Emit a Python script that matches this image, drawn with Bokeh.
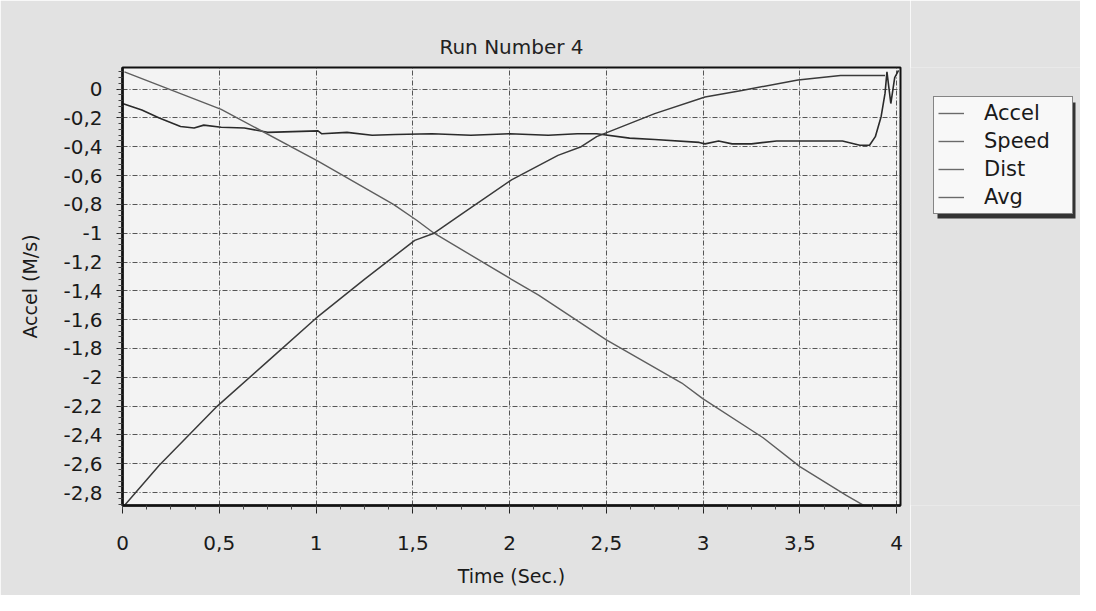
import numpy as np
from bokeh.plotting import figure
from bokeh.layouts import row
from bokeh.models import (Range1d, FixedTicker, CustomJSTickFormatter, Legend,
                          LegendItem)
from bokeh.embed import file_html
from bokeh.resources import INLINE

# ---------------- data ----------------
title_text = "Run Number 4"
x_label = "Time (Sec.)"
y_label = "Accel (M/s)"
series_names = ["Accel", "Speed", "Dist", "Avg"]
series_colors = ["#2a2a2a", "#5e5e5e", "#3a3a3a", "#6a6a6a"]

x_ticks = [0, 0.5, 1, 1.5, 2, 2.5, 3, 3.5, 4]
y_ticks = [-2.8, -2.6, -2.4, -2.2, -2.0, -1.8, -1.6, -1.4, -1.2, -1.0,
           -0.8, -0.6, -0.4, -0.2, 0.0]

accel_t = [0.00, 0.10, 0.19, 0.30, 0.37, 0.42, 0.51, 0.63, 0.75, 1.01, 1.03,
           1.16, 1.29, 1.41, 1.60, 1.80, 2.00, 2.20, 2.35, 2.45, 2.62, 2.75,
           2.98, 3.01, 3.08, 3.15, 3.25, 3.38, 3.50, 3.72, 3.81, 3.86, 3.89,
           3.92, 3.94, 3.95, 3.97, 3.99, 4.01]
accel_v = [-0.10, -0.145, -0.20, -0.26, -0.27, -0.25, -0.265, -0.27, -0.30,
           -0.29, -0.31, -0.30, -0.32, -0.315, -0.31, -0.32, -0.31, -0.32,
           -0.31, -0.31, -0.34, -0.35, -0.37, -0.38, -0.36, -0.38, -0.38,
           -0.36, -0.36, -0.36, -0.39, -0.39, -0.33, -0.19, -0.03, 0.12,
           -0.10, 0.08, 0.13]

speed_t = [0.01, 0.51, 1.01, 1.40, 1.52, 1.61, 2.01, 2.15, 2.50, 2.89, 3.00,
           3.31, 3.50, 3.74, 3.87]
speed_v = [0.12, -0.14, -0.50, -0.80, -0.91, -1.00, -1.32, -1.43, -1.74,
           -2.04, -2.15, -2.42, -2.62, -2.82, -2.92]

dist_t = [0.01, 0.19, 0.49, 0.75, 1.00, 1.25, 1.51, 1.61, 1.75, 2.01, 2.25,
          2.37, 2.45, 2.75, 3.01, 3.20, 3.49, 3.71, 3.94]
dist_v = [-2.89, -2.61, -2.20, -1.89, -1.59, -1.32, -1.05, -1.00, -0.87,
          -0.63, -0.46, -0.40, -0.33, -0.17, -0.055, -0.01, 0.064, 0.095,
          0.095]

avg_t = []
avg_v = []

# ---------------- main figure ----------------
FONT = "DejaVu Sans"
BG = "#e2e2e2"
H = 595
W_MAIN = 910
W_LEG = 170
B_TOP = 67
B_BOTTOM = 90
FRAME_H = H - B_TOP - B_BOTTOM

p = figure(width=W_MAIN, height=H, output_backend="svg", toolbar_location=None,
           x_range=Range1d(0, 4.02), y_range=Range1d(-2.89, 0.15),
           title=title_text)
p.min_border_left = 122
p.min_border_right = 10
p.min_border_top = B_TOP
p.min_border_bottom = B_BOTTOM

p.border_fill_color = BG
p.background_fill_color = "#f3f3f3"
p.outline_line_color = "#111111"
p.outline_line_width = 2

p.title.align = "center"
p.title.text_font = FONT
p.title.text_font_size = "20px"
p.title.text_font_style = "normal"
p.title.text_color = "#222222"
p.title.standoff = 17

fmt = CustomJSTickFormatter(code="""
    var r = Math.round(tick * 10) / 10;
    if (Math.abs(r) < 1e-9) { r = 0; }
    return String(r).replace('.', ',');
""")

xa = p.xaxis[0]
xa.ticker = FixedTicker(ticks=x_ticks,
                        minor_ticks=list(np.arange(0, 4.02, 0.125)))
xa.formatter = fmt
xa.axis_label = x_label
ya = p.yaxis[0]
ya.ticker = FixedTicker(ticks=y_ticks,
                        minor_ticks=list(np.arange(-2.88, 0.15, 0.04)))
ya.formatter = fmt
ya.axis_label = y_label

for ax in (xa, ya):
    ax.axis_line_color = "#111111"
    ax.axis_line_width = 2.5
    ax.major_tick_line_color = "#222222"
    ax.minor_tick_line_color = "#444444"
    ax.major_label_text_font = FONT
    ax.major_label_text_font_size = "20px"
    ax.major_label_text_color = "#1a1a1a"
    ax.axis_label_text_font = FONT
    ax.axis_label_text_font_size = "19px"
    ax.axis_label_text_font_style = "normal"
    ax.axis_label_text_color = "#1a1a1a"

xa.major_tick_out = 8
xa.major_tick_in = 0
xa.minor_tick_out = 4
xa.minor_tick_in = 0
xa.major_label_standoff = 22
xa.axis_label_standoff = 12

ya.major_tick_out = 6
ya.major_tick_in = 0
ya.minor_tick_out = 4
ya.minor_tick_in = 0
ya.major_label_standoff = 14
ya.axis_label_standoff = 19

for g in (p.xgrid[0], p.ygrid[0]):
    g.grid_line_color = "#3a3a3a"
    g.grid_line_dash = "5 2 1 2"
    g.grid_line_width = 1
    g.grid_line_alpha = 0.85

series = [(accel_t, accel_v, 1.6), (speed_t, speed_v, 1.4),
          (dist_t, dist_v, 1.5), (avg_t, avg_v, 1.4)]
for (t, v, w), c in zip(series, series_colors):
    p.line(t, v, line_color=c, line_width=w)

# ---------------- legend panel (frame aligned with the main frame) --------
q = figure(width=W_LEG, height=H, output_backend="svg", toolbar_location=None,
           x_range=Range1d(0, W_LEG), y_range=Range1d(0, FRAME_H))
q.min_border_left = 0
q.min_border_right = 0
q.min_border_top = B_TOP
q.min_border_bottom = B_BOTTOM
q.axis.visible = False
q.grid.visible = False
q.outline_line_color = None
q.border_fill_color = BG
q.background_fill_color = BG

frame_bottom = H - B_BOTTOM           # canvas y of frame bottom
leg_left, leg_top, leg_w, leg_h = 23, 98, 138, 116   # canvas pixels
# drop shadow behind the legend box
q.quad(left=[leg_left + 4], right=[leg_left + leg_w + 4],
       top=[frame_bottom - leg_top - 4],
       bottom=[frame_bottom - leg_top - leg_h - 4],
       fill_color="#333333", line_color=None)

# legend-only line renderers (no visible data)
leg_renderers = [q.line([np.nan], [np.nan], line_color="#6a6a6a",
                        line_width=1.4)
                 for c in series_colors]
items = [LegendItem(label=n, renderers=[r])
         for n, r in zip(series_names, leg_renderers)]
lg = Legend(items=items,
            location=(leg_left, frame_bottom - leg_top - leg_h))
lg.label_text_font = FONT
lg.label_text_font_size = "21px"
lg.label_text_color = "#1a1a1a"
lg.glyph_width = 26
lg.glyph_height = 22
lg.label_height = 24
lg.label_width = 84
lg.label_standoff = 20
lg.spacing = 4
lg.padding = 4
lg.margin = 0
lg.border_line_color = "#111111"
lg.border_line_width = 1.5
lg.background_fill_color = "#f8f8f8"
lg.background_fill_alpha = 1.0
q.add_layout(lg, "center")

layout = row(p, q, spacing=0)
open("out.html", "w").write(file_html(layout, INLINE))
